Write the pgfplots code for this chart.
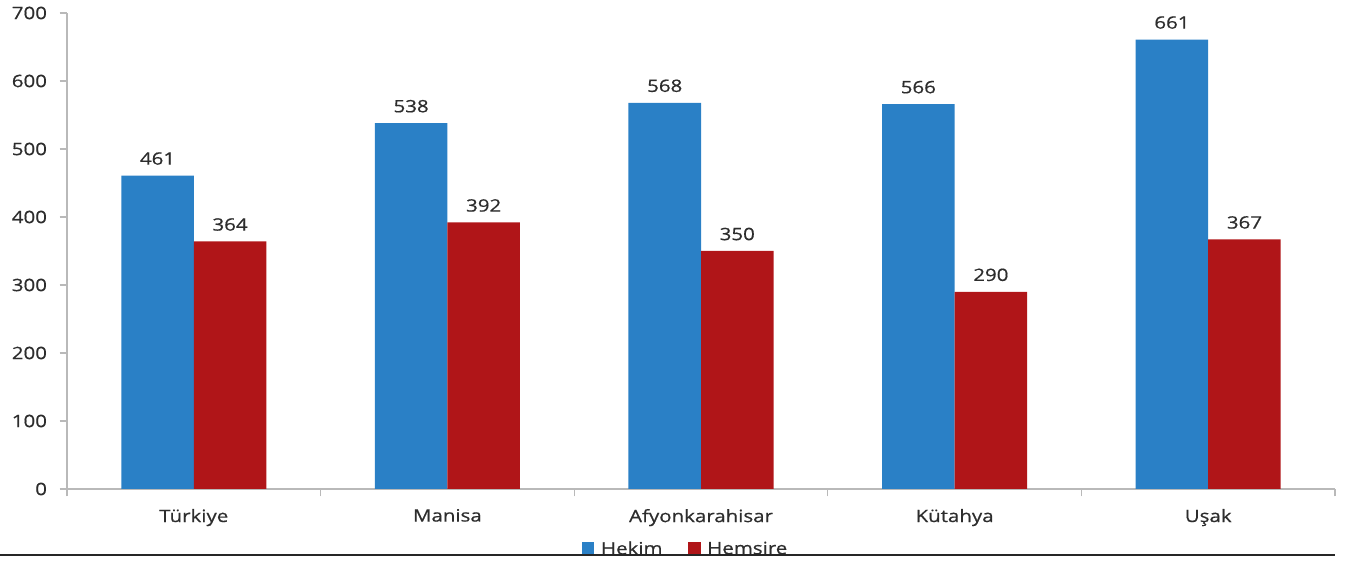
\documentclass[border=0pt]{standalone}
\usepackage{fontspec}
\setmainfont{Open Sans}[FakeStretch=1.2, FakeBold=0.6]
\usepackage{pgfplots}
\pgfplotsset{compat=1.18}
\definecolor{hekim}{RGB}{42,128,198}
\definecolor{hemsire}{RGB}{176,21,24}
\definecolor{axisgray}{RGB}{185,185,185}
\definecolor{txt}{RGB}{45,45,45}
\begin{document}
\begin{tikzpicture}[x=1pt,y=1pt]
\path[use as bounding box] (0,0) rectangle (1019.25,424.5);
\begin{axis}[
  at={(50.25pt,57.75pt)}, anchor=south west,
  scale only axis, width=951pt, height=357pt,
  xmin=-0.5, xmax=4.5, ymin=0, ymax=700,
  ybar=0pt, bar width=54.4pt,
  axis x line*=bottom, axis y line*=left,
  axis line style={axisgray, line width=0.8pt},
  tick align=outside, major tick length=5.5pt,
  tick style={axisgray, line width=0.8pt},
  xtick={-0.5,0.5,...,4.5}, xticklabels={},
  extra x ticks={0,1,2,3,4},
  extra x tick labels={Türkiye,Manisa,Afyonkarahisar,Kütahya,Uşak},
  extra x tick style={tick style={draw=none}},
  ytick={0,100,...,700},
  /pgf/number format/assume math mode=true,
  ticklabel style={font=\fontsize{12.8}{14}\selectfont, text=txt},
  xticklabel style={yshift=-6pt},
  yticklabel style={xshift=-6pt},
  nodes near coords,
  nodes near coords style={font=\fontsize{12.8}{14}\selectfont, text=txt, yshift=4.5pt},
  legend style={at={(0.488,-0.126)}, anchor=center, legend columns=2, draw=none,
    font=\fontsize{12.8}{14}\selectfont, text=txt,
    /tikz/every odd column/.append style={column sep=3pt},
    /tikz/every even column/.append style={column sep=17pt}},
  legend image code/.code={\fill[#1] (0pt,-4.5pt) rectangle (9.5pt,5pt);},
]
\addplot[fill=hekim, draw=none] coordinates {(0,461) (1,538) (2,568) (3,566) (4,661)};
\addplot[fill=hemsire, draw=none] coordinates {(0,364) (1,392) (2,350) (3,290) (4,367)};
\legend{Hekim,Hemşire}
\end{axis}
\fill[white] (0,0) rectangle (1019.25,7.9);
\draw[line width=1.5pt, black!85] (0,8.3) -- (1001.25,8.3);
\end{tikzpicture}
\end{document}
